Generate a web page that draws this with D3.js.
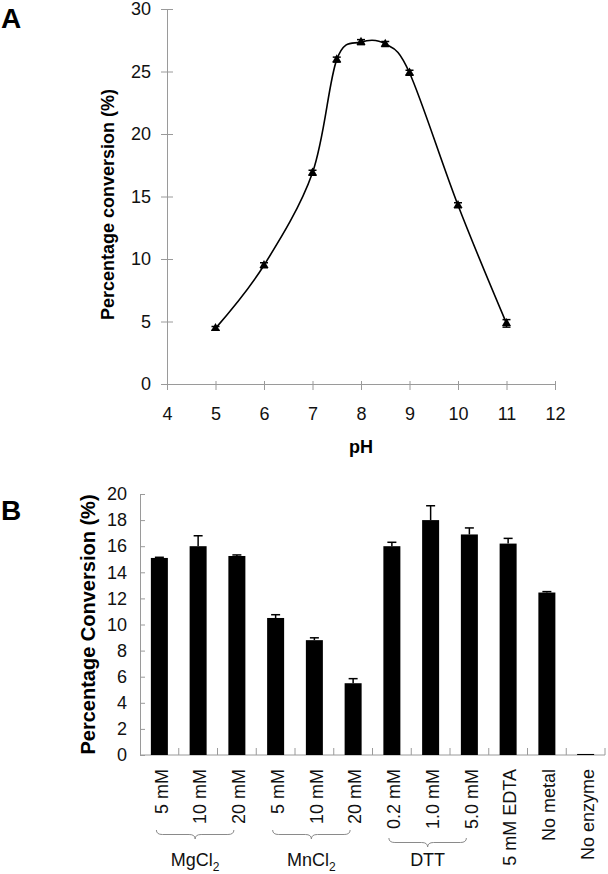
<!DOCTYPE html>
<html>
<head>
<meta charset="utf-8">
<script src="https://cdn.jsdelivr.net/npm/d3@7"></script>
<style>
  html, body { margin: 0; padding: 0; background: #fff; }
  svg { display: block; font-family: "Liberation Sans", Arial, sans-serif; }
</style>
</head>
<body>
<svg id="chart" width="608" height="874"></svg>
<script>
// ---------- Data: panel A (pH profile) ----------
const phValues = [5, 6, 7, 7.5, 8, 8.5, 9, 10, 11];
const phConversion = [4.45, 9.5, 16.9, 25.95, 27.35, 27.2, 24.9, 14.3, 4.85];
const phError = [0.15, 0.2, 0.2, 0.2, 0.2, 0.2, 0.2, 0.2, 0.3];
const phTicks = [4, 5, 6, 7, 8, 9, 10, 11, 12];
const convTicksA = [0, 5, 10, 15, 20, 25, 30];

// ---------- Data: panel B (additives) ----------
const conditions = ["5 mM", "10 mM", "20 mM", "5 mM", "10 mM", "20 mM",
                    "0.2 mM", "1.0 mM", "5.0 mM", "5 mM EDTA", "No metal", "No enzyme"];
const conversion = [15.1, 16.0, 15.25, 10.5, 8.8, 5.5, 16.0, 18.0, 16.9, 16.2, 12.45, 0.08];
const conversionError = [0.05, 0.8, 0.08, 0.25, 0.18, 0.35, 0.3, 1.1, 0.5, 0.4, 0.07, 0];
const convTicksB = [0, 2, 4, 6, 8, 10, 12, 14, 16, 18, 20];
const groupNames = ["MgCl", "MnCl", "DTT"];
const groupSubs = ["2", "2", ""];
const groupStart = [0, 3, 6];
const groupEnd = [2, 5, 8];

const svg = d3.select("#chart");
const axisColor = "#9a9a9a";

// ================= Panel A =================
const xA = d3.scaleLinear().domain([4, 12]).range([167, 555]);
const yA = d3.scaleLinear().domain([0, 30]).range([384, 9]);

svg.append("text").attr("x", 1).attr("y", 28)
  .attr("font-size", 28).attr("font-weight", "bold").text("A");

const gAx = svg.append("g").attr("transform", `translate(0,${yA(0)})`)
  .call(d3.axisBottom(xA).tickValues(phTicks).tickSize(0).tickPadding(0).tickFormat(d3.format("d")));
gAx.select(".domain").attr("stroke", axisColor);
gAx.selectAll(".tick text").attr("y", 36).attr("dy", 0).attr("font-size", 18).attr("fill", "#111");
gAx.selectAll(".tick").append("line").attr("y1", -3).attr("y2", 6).attr("stroke", axisColor);

const gAy = svg.append("g").attr("transform", `translate(${xA(4)},0)`)
  .call(d3.axisLeft(yA).tickValues(convTicksA).tickSize(0).tickPadding(16));
gAy.select(".domain").attr("stroke", axisColor);
gAy.selectAll(".tick text").attr("font-size", 18).attr("fill", "#111");
gAy.selectAll(".tick").append("line").attr("x1", -6).attr("x2", 6).attr("stroke", axisColor);

svg.append("text").attr("x", xA(8)).attr("y", 453).attr("text-anchor", "middle")
  .attr("font-size", 18).attr("font-weight", "bold").text("pH");

svg.append("text").attr("transform", `translate(114,${(yA(0) + yA(30)) / 2 + 8}) rotate(-90)`)
  .attr("text-anchor", "middle").attr("font-size", 18).attr("font-weight", "bold")
  .text("Percentage conversion (%)");

const ptsA = phValues.map((p, i) => ({ x: p, y: phConversion[i], e: phError[i] }));
svg.append("path").datum(ptsA)
  .attr("fill", "none").attr("stroke", "#000").attr("stroke-width", 1.6)
  .attr("d", d3.line().x(d => xA(d.x)).y(d => yA(d.y)).curve(d3.curveCardinal.tension(0)));

const errA = svg.append("g").attr("stroke", "#000").attr("stroke-width", 1.5);
ptsA.forEach(d => {
  const cx = xA(d.x);
  errA.append("line").attr("x1", cx).attr("x2", cx).attr("y1", yA(d.y - d.e)).attr("y2", yA(d.y + d.e));
  errA.append("line").attr("x1", cx - 4).attr("x2", cx + 4).attr("y1", yA(d.y + d.e)).attr("y2", yA(d.y + d.e));
  errA.append("line").attr("x1", cx - 4).attr("x2", cx + 4).attr("y1", yA(d.y - d.e)).attr("y2", yA(d.y - d.e));
});
svg.append("g").selectAll("path").data(ptsA).join("path")
  .attr("transform", d => `translate(${xA(d.x)},${yA(d.y)})`)
  .attr("d", d3.symbol().type(d3.symbolTriangle).size(36))
  .attr("fill", "#000");

// ================= Panel B =================
const xB = d3.scaleBand().domain(d3.range(conditions.length)).range([140, 605]).padding(0);
const yB = d3.scaleLinear().domain([0, 20]).range([755, 494]);
const barW = 17;

svg.append("text").attr("x", 1).attr("y", 520)
  .attr("font-size", 28).attr("font-weight", "bold").text("B");

const gBy = svg.append("g").attr("transform", `translate(140,0)`)
  .call(d3.axisLeft(yB).tickValues(convTicksB).tickSize(0).tickPadding(13));
gBy.select(".domain").attr("stroke", axisColor);
gBy.selectAll(".tick text").attr("font-size", 18).attr("fill", "#111");
gBy.selectAll(".tick").append("line").attr("x1", 0).attr("x2", 5).attr("stroke", axisColor);

// x axis baseline and separator ticks
svg.append("line").attr("x1", 140).attr("x2", 605).attr("y1", yB(0)).attr("y2", yB(0)).attr("stroke", axisColor);
svg.append("g").selectAll("line").data(d3.range(1, conditions.length + 1)).join("line")
  .attr("x1", i => 140 + i * xB.bandwidth()).attr("x2", i => 140 + i * xB.bandwidth())
  .attr("y1", yB(0)).attr("y2", yB(0) - 7).attr("stroke", axisColor);

svg.append("text").attr("transform", `translate(95,${(yB(0) + yB(20)) / 2}) rotate(-90)`)
  .attr("text-anchor", "middle").attr("font-size", 20).attr("font-weight", "bold")
  .text("Percentage Conversion (%)");

const cxB = i => xB(i) + xB.bandwidth() / 2;

svg.append("g").selectAll("rect").data(conversion).join("rect")
  .attr("x", (d, i) => cxB(i) - barW / 2).attr("width", barW)
  .attr("y", d => yB(d)).attr("height", d => yB(0) - yB(d))
  .attr("fill", "#000");

const errB = svg.append("g").attr("stroke", "#000").attr("stroke-width", 1.5);
conversion.forEach((v, i) => {
  const e = conversionError[i];
  if (e <= 0) return;
  const cx = cxB(i);
  errB.append("line").attr("x1", cx).attr("x2", cx).attr("y1", yB(v)).attr("y2", yB(v + e));
  errB.append("line").attr("x1", cx - 4.5).attr("x2", cx + 4.5).attr("y1", yB(v + e)).attr("y2", yB(v + e));
});

svg.append("g").selectAll("text").data(conditions).join("text")
  .attr("transform", (d, i) => `translate(${cxB(i) + 2},769) rotate(-90)`)
  .attr("text-anchor", "end").attr("dy", "0.35em")
  .attr("font-size", 18).attr("fill", "#111").text(d => d);

// group braces
const braceTop = [830, 830, 838];
groupNames.forEach((name, gi) => {
  const x1 = cxB(groupStart[gi]) - 3, x2 = cxB(groupEnd[gi]) - 3;
  const xm = (x1 + x2) / 2, y0 = braceTop[gi], h = 9, r = 6;
  const p = d3.path();
  p.moveTo(x1, y0);
  p.quadraticCurveTo(x1, y0 + h / 2, x1 + r, y0 + h / 2);
  p.lineTo(xm - r, y0 + h / 2);
  p.quadraticCurveTo(xm, y0 + h / 2, xm, y0 + h);
  p.quadraticCurveTo(xm, y0 + h / 2, xm + r, y0 + h / 2);
  p.lineTo(x2 - r, y0 + h / 2);
  p.quadraticCurveTo(x2, y0 + h / 2, x2, y0);
  svg.append("path").attr("d", p.toString()).attr("fill", "none")
    .attr("stroke", "#8a8a8a").attr("stroke-width", 1);
  const t = svg.append("text").attr("x", xm).attr("y", 866)
    .attr("text-anchor", "middle").attr("font-size", 18).attr("fill", "#111");
  t.append("tspan").text(name);
  if (groupSubs[gi]) t.append("tspan").attr("font-size", 12).attr("dy", 5).text(groupSubs[gi]);
});
</script>
</body>
</html>
